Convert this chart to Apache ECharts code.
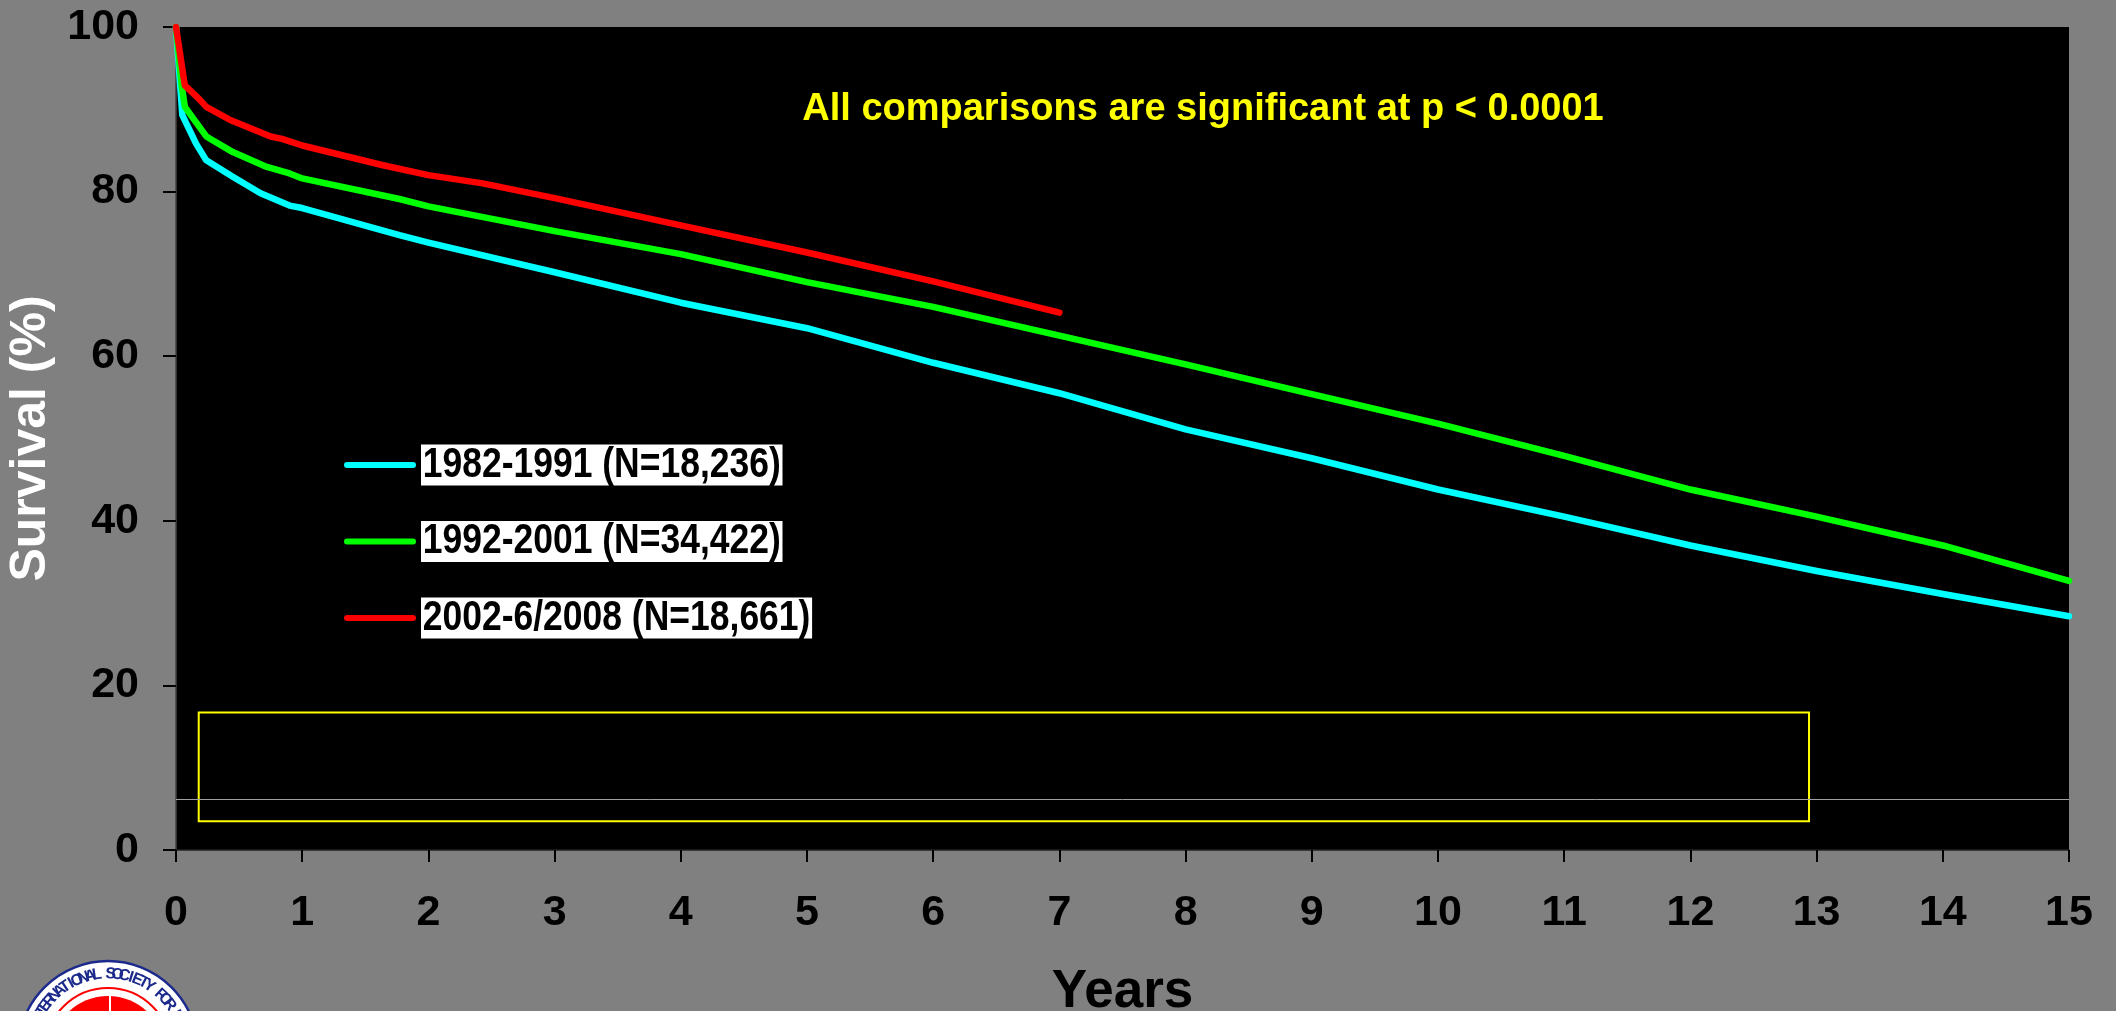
<!DOCTYPE html>
<html>
<head>
<meta charset="utf-8">
<script src="https://cdn.jsdelivr.net/npm/echarts@6/dist/echarts.min.js"></script>
<style>
html,body{margin:0;padding:0;background:#808080;}
#chart{width:2116px;height:1011px;}
</style>
</head>
<body>
<div id="chart"></div>
<script>
// ---- data ----
const seriesNames = ['1982-1991 (N=18,236)', '1992-2001 (N=34,422)', '2002-6/2008 (N=18,661)'];
const seriesColors = ['#00FFFF', '#00FF00', '#FF0000'];

const yearsA = [0, 0.05, 0.16, 0.24, 0.45, 0.67, 0.9, 1.0, 1.77, 2, 3, 4, 5, 6, 7, 8, 9, 10, 11, 12, 13, 14, 15];
const survA  = [100, 89.3, 85.8, 83.8, 81.8, 79.8, 78.3, 78.0, 74.7, 73.8, 70.2, 66.5, 63.4, 59.2, 55.5, 51.1, 47.6, 43.8, 40.5, 37.0, 33.9, 31.1, 28.4];

const yearsB = [0, 0.045, 0.07, 0.24, 0.45, 0.72, 0.9, 1.0, 1.77, 2, 3, 4, 5, 6, 7, 8, 9, 10, 11, 12, 13, 14, 15];
const survB  = [100, 92.9, 90.3, 86.7, 84.8, 83.0, 82.2, 81.6, 79.1, 78.2, 75.2, 72.4, 69.0, 66.0, 62.5, 59.0, 55.4, 51.8, 47.9, 43.8, 40.5, 37.0, 32.7];

const yearsC = [0, 0.07, 0.18, 0.24, 0.43, 0.59, 0.75, 0.84, 1.0, 1.64, 2, 2.43, 3, 4, 5, 6, 7];
const survC  = [100, 92.9, 91.3, 90.3, 88.7, 87.7, 86.7, 86.4, 85.6, 83.2, 82.0, 81.0, 79.2, 75.9, 72.6, 69.1, 65.3];

const xTicks = { min: 0, max: 15, interval: 1 };
const yTicks = { min: 0, max: 100, interval: 20 };

const noteText = 'All comparisons are significant at p < 0.0001';
const boxX = [0.18, 12.94];
const boxY = [3.5, 16.7];
const refLineY = 6.2;
const logoText = 'INTERNATIONAL SOCIETY FOR HEART AND LUNG TRANSPLANTATION';

// ---- build ----
function pairs(xs, ys) { return xs.map((x, i) => [x, ys[i]]); }
const allData = [pairs(yearsA, survA), pairs(yearsB, survB), pairs(yearsC, survC)];

const FONT = "'Liberation Sans', Arial, sans-serif";

const series = allData.map((d, i) => ({
  name: seriesNames[i],
  type: 'line',
  data: d,
  showSymbol: false,
  symbol: 'none',
  z: 3 + i,
  lineStyle: { color: seriesColors[i], width: 6.5, cap: 'round', join: 'round' },
  itemStyle: { color: seriesColors[i] }
}));

series[0].markArea = {
  silent: true,
  itemStyle: { color: 'rgba(0,0,0,0)', borderColor: '#FFFF00', borderWidth: 2 },
  data: [[{ coord: [boxX[0], boxY[1]] }, { coord: [boxX[1], boxY[0]] }]]
};
series[0].markLine = {
  silent: true,
  symbol: 'none',
  label: { show: false },
  lineStyle: { color: '#a0a0a0', width: 1, type: 'solid' },
  data: [{ yAxis: refLineY }]
};

// legend (drawn as graphics so the condensed look of the original can be matched)
const legendEls = [];
seriesNames.forEach((name, i) => {
  const yc = 465 + i * 76.5;
  legendEls.push({
    type: 'line', z: 20,
    shape: { x1: 347, y1: yc, x2: 413, y2: yc },
    style: { stroke: seriesColors[i], lineWidth: 6, lineCap: 'round' }
  });
  legendEls.push({
    type: 'text', z: 20, x: 421, y: yc, scaleX: 0.845,
    style: {
      text: name, fill: '#000', font: 'bold 42px ' + FONT,
      align: 'left', verticalAlign: 'middle',
      backgroundColor: '#fff', padding: [0, 2, 0, 2], lineHeight: 41
    }
  });
});

// logo decoration
const cx = 108, cy = 1051;
const logoEls = [
  { type: 'circle', shape: { cx: cx, cy: cy, r: 90 }, style: { fill: '#fff', stroke: '#1c2a8c', lineWidth: 2.5 } },
  { type: 'circle', shape: { cx: cx, cy: cy, r: 63 }, style: { fill: '#fff', stroke: '#ff0000', lineWidth: 2 } },
  { type: 'circle', shape: { cx: cx, cy: cy + 2, r: 57 }, style: { fill: '#ff0000' } },
  { type: 'line', shape: { x1: cx + 2, y1: 990, x2: cx + 2, y2: 1011 }, style: { stroke: '#fff', lineWidth: 2 } }
];
const sIndex = logoText.indexOf('SOCIETY');
for (let i = 0; i < logoText.length; i++) {
  const ch = logoText[i];
  if (ch === ' ') continue;
  const deg = -88 + (i - sIndex) * 5.1;
  const th = deg * Math.PI / 180;
  const r = 77;
  logoEls.push({
    type: 'text',
    x: cx + r * Math.cos(th),
    y: cy + r * Math.sin(th),
    rotation: -(th + Math.PI / 2),
    style: { text: ch, fill: '#1c2a8c', font: 'bold 16px ' + FONT, align: 'center', verticalAlign: 'middle' }
  });
}

const option = {
  animation: false,
  backgroundColor: '#808080',
  grid: {
    left: 176, right: 47, top: 27, bottom: 161,
    containLabel: false, outerBoundsMode: 'none',
    show: true, backgroundColor: '#000', borderWidth: 0
  },
  xAxis: {
    type: 'value', min: xTicks.min, max: xTicks.max, interval: xTicks.interval,
    name: 'Years', nameLocation: 'middle', nameGap: 116,
    nameTextStyle: { fontFamily: FONT, fontSize: 53, fontWeight: 'bold', color: '#000' },
    splitLine: { show: false },
    axisLine: { show: true, onZero: false, lineStyle: { color: '#222', width: 1.5 } },
    axisTick: { show: true, length: 12, lineStyle: { color: '#000', width: 2 } },
    axisLabel: { margin: 42, fontFamily: FONT, fontSize: 43, fontWeight: 'bold', color: '#000' }
  },
  yAxis: {
    type: 'value', min: yTicks.min, max: yTicks.max, interval: yTicks.interval,
    name: 'Survival (%)', nameLocation: 'middle', nameGap: 112,
    nameTextStyle: { fontFamily: FONT, fontSize: 50, fontWeight: 'bold', color: '#fff' },
    splitLine: { show: false },
    axisLine: { show: true, lineStyle: { color: '#444', width: 1.5 } },
    axisTick: { show: true, length: 13, lineStyle: { color: '#000', width: 2 } },
    axisLabel: { margin: 37, fontFamily: FONT, fontSize: 43, fontWeight: 'bold', color: '#000' }
  },
  graphic: [
    {
      type: 'text', x: 1203, y: 110, z: 10,
      style: { text: noteText, fill: '#FFFF00', font: 'bold 38px ' + FONT, align: 'center', verticalAlign: 'middle' }
    },
    { type: 'group', children: legendEls },
    { type: 'group', children: logoEls }
  ],
  series: series
};

const chart = echarts.init(document.getElementById('chart'), null, { renderer: 'canvas' });
chart.setOption(option);
</script>
</body>
</html>
